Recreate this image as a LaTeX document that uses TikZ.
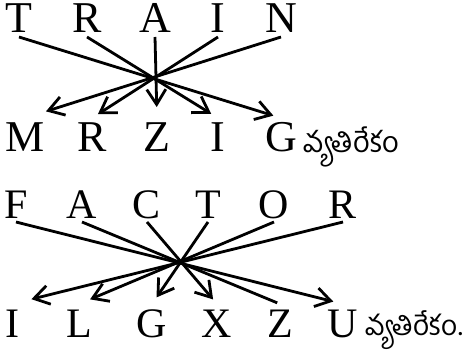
\documentclass[tikz,border=0pt]{standalone}
\usepackage{fontspec}
\setmainfont{Liberation Serif}
\newfontfamily\telugufont[Script=Telugu]{Hind Guntur}
\usetikzlibrary{arrows.meta}

\tikzset{
  ltr/.style={inner sep=0pt, outer xsep=0pt, outer ysep=4pt, anchor=base,
    text height=30pt, text depth=0pt, font=\fontsize{44}{44}\selectfont},
  ltrb/.style={ltr, text height=29pt, font=\fontsize{42}{42}\selectfont},
  arr/.style={line width=2.8pt, -{Straight Barb[length=15pt,width=19pt]},
    shorten <=0pt, shorten >=8pt},
  plain/.style={line width=2.8pt, shorten >=3pt},
  word/.style={anchor=base west, inner sep=0pt, text depth=0pt,
    font=\telugufont\fontsize{29}{29}\selectfont}
}

\begin{document}
\begin{tikzpicture}[x=1pt,y=-1pt]
\useasboundingbox (0,0) rectangle (476,358);
%
% TRAIN
\node[ltr] (t1) at (19,33) {T};
\node[ltr] (t2) at (87,33) {R};
\node[ltr] (t3) at (155,33) {A};
\node[ltr] (t4) at (218,33) {I};
\node[ltr] (t5) at (281,33) {N};
%
\node[ltr] (m1) at (25,152) {M};
\node[ltr] (m2) at (92,152) {R};
\node[ltr] (m3) at (157,152) {Z};
\node[ltr] (m4) at (218,152) {I};
\node[ltr] (m5) at (281,152) {G};
\node[word] (w1) at (303,153) {వ్యతిరేకం};
%
\draw[arr] (t1.south) -- (m5.north);
\draw[arr] (t2.south) -- (m4.north);
\draw[arr, shorten >=11pt] (t3.south) -- (m3.north);
\draw[arr, shorten >=7pt] (t4.south) -- (m2.north);
\draw[arr, shorten >=22pt] (t5.south) -- (m1.north);
%
% FACTOR
\node[ltrb] (f1) at (16,218) {F};
\node[ltrb] (f2) at (82,218) {A};
\node[ltrb] (f3) at (147,218) {C};
\node[ltrb] (f4) at (208,218) {T};
\node[ltrb] (f5) at (274,218) {O};
\node[ltrb] (f6) at (343,218) {R};
%
\node[ltrb] (g1) at (12,337) {I};
\node[ltrb] (g2) at (79,337) {L};
\node[ltrb] (g3) at (152,337) {G};
\node[ltrb] (g4) at (217,337) {X};
\node[ltrb] (g5) at (280,337) {Z};
\node[ltrb] (g6) at (343,337) {U};
\node[word, font=\telugufont\fontsize{28}{28}\selectfont] (w2) at (365,335) {వ్యతిరేకం.};
%
\draw[arr, shorten >=10pt] (f1.south) -- (g6.north);
\draw[plain] (f2.south) -- (g5.north);
\draw[arr, shorten >=6pt] (f3.south) -- (g4.north);
\draw[arr, shorten >=8pt] (f4.south) -- (g3.north);
\draw[arr, shorten >=12pt] (f5.south) -- (g2.north);
\draw[arr, shorten >=20pt] (f6.south) -- (g1.north);
\end{tikzpicture}
\end{document}
